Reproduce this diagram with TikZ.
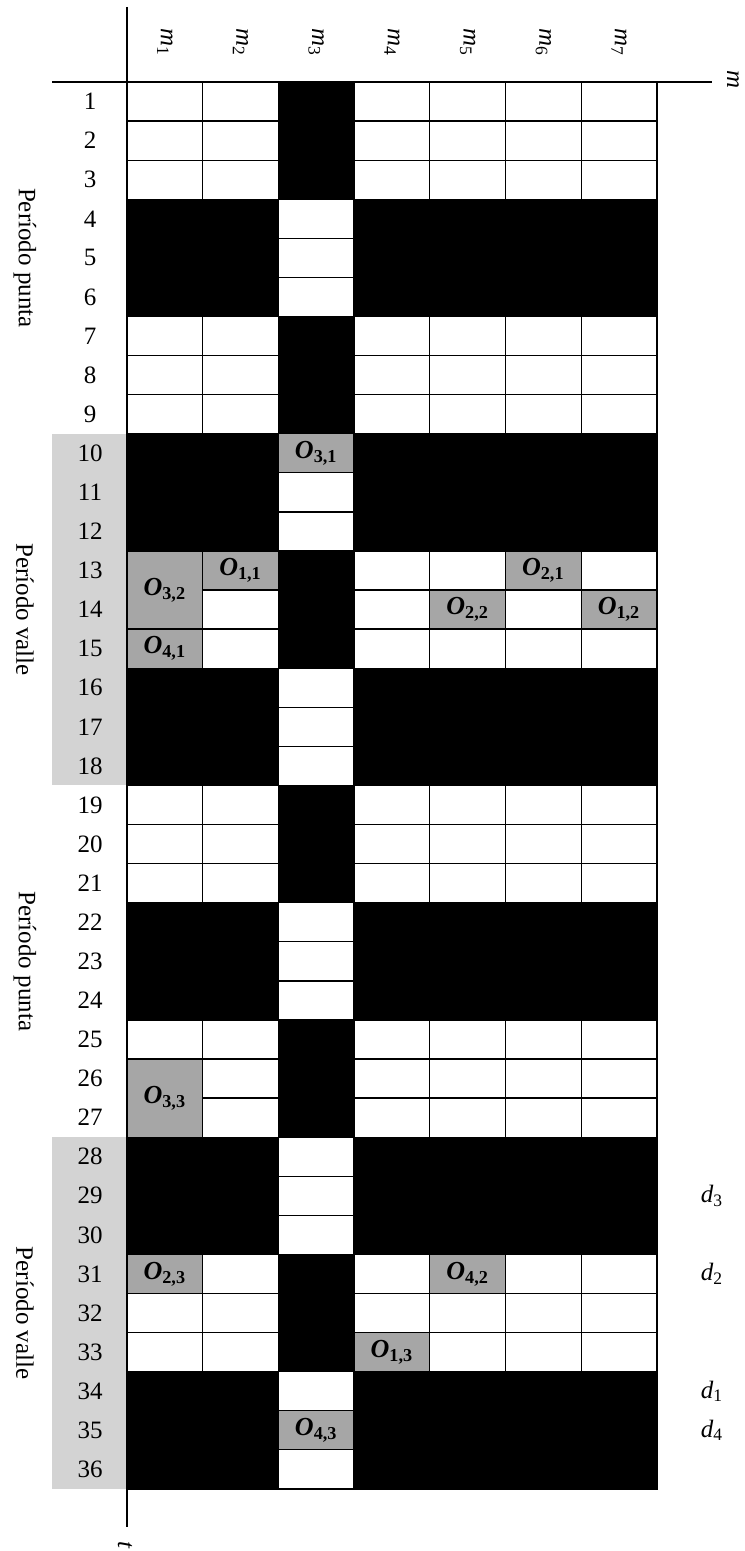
\documentclass[tikz,border=0pt]{standalone}
\usepackage{fontspec}
\setmainfont{Liberation Serif}
\usetikzlibrary{positioning}
\definecolor{Valle}{HTML}{D3D3D3}
\definecolor{OpGray}{HTML}{A6A6A6}
% cell centres, in pixels of the sheet
\newcommand{\cx}[1]{127+(#1-0.5)*75.7}
\newcommand{\ry}[1]{82+(#1-0.5)*39.08}
\newcommand{\opl}[1]{\textbf{\textit{O}}\textsubscript{\textbf{#1}}}

\begin{document}
\begin{tikzpicture}[
  x=0.5pt,y=-0.5pt,
  cell/.style={draw=black,line width=0.65pt,fill=white,minimum width=37.85pt,minimum height=19.54pt,inner sep=0pt,outer sep=0pt},
  busy/.style={cell,fill=black},
  op/.style={cell,fill=OpGray,font=\fontsize{13}{15}\selectfont},
  lbl/.style={font=\fontsize{12.5}{15}\selectfont,inner sep=0pt},
  axis/.style={draw=black,line width=0.65pt}
]
  \useasboundingbox (0,0) rectangle (744,1551);

  % valley bands
  \fill[Valle] (52,433.72) rectangle (127,785.44);
  \fill[Valle] (52,1137.16) rectangle (127,1488.88);

  % m3 busy, other machines free
  \foreach \r in {1,2,3,7,8,9,13,14,15,19,20,21,25,26,27,31,32,33} {
    \foreach \c in {1,2,4,5,6,7}
      \node[cell] (c-\r-\c) at ({\cx{\c}},{\ry{\r}}) {};
    \node[busy] (c-\r-3) at ({\cx{3}},{\ry{\r}}) {};
  }
  % m3 free, other machines busy
  \foreach \r in {4,5,6,10,11,12,16,17,18,22,23,24,28,29,30,34,35,36} {
    \foreach \c in {1,2,4,5,6,7}
      \node[busy] (c-\r-\c) at ({\cx{\c}},{\ry{\r}}) {};
    \node[cell] (c-\r-3) at ({\cx{3}},{\ry{\r}}) {};
  }

  % operations
  \node[op] (o31) at ({\cx{3}},{\ry{10}}) {\opl{3,1}};
  \node[op,minimum height=39.08pt] (o32) at ({\cx{1}},{82+13*39.08}) {\opl{3,2}};
  \node[op] (o11) at ({\cx{2}},{\ry{13}}) {\opl{1,1}};
  \node[op] (o21) at ({\cx{6}},{\ry{13}}) {\opl{2,1}};
  \node[op] (o22) at ({\cx{5}},{\ry{14}}) {\opl{2,2}};
  \node[op] (o12) at ({\cx{7}},{\ry{14}}) {\opl{1,2}};
  \node[op] (o41) at ({\cx{1}},{\ry{15}}) {\opl{4,1}};
  \node[op,minimum height=39.08pt] (o33) at ({\cx{1}},{82+26*39.08}) {\opl{3,3}};
  \node[op] (o23) at ({\cx{1}},{\ry{31}}) {\opl{2,3}};
  \node[op] (o42) at ({\cx{5}},{\ry{31}}) {\opl{4,2}};
  \node[op] (o13) at ({\cx{4}},{\ry{33}}) {\opl{1,3}};
  \node[op] (o43) at ({\cx{3}},{\ry{35}}) {\opl{4,3}};

  % time slots and machines
  \foreach \r in {1,...,36}
    \node[lbl] (t\r) at (90,{\ry{\r}}) {\r};
  \foreach \c in {1,...,7}
    \node[lbl,rotate=-90] (m\c) at ({\cx{\c}},42) {\textit{m}\textsubscript{\c}};

  % periods
  \node[lbl,rotate=-90] (punta1) at (25,{82+4.5*39.08}) {Período punta};
  \node[lbl,rotate=-90] (valle1) at (25,{82+13.5*39.08}) {Período valle};
  \node[lbl,rotate=-90] (punta2) at (25,{82+22.5*39.08}) {Período punta};
  \node[lbl,rotate=-90] (valle2) at (25,{82+31.5*39.08}) {Período valle};

  % due dates
  \node[lbl] (d3) at (712,{\ry{29}}) {\textit{d}\textsubscript{3}};
  \node[lbl] (d2) at (712,{\ry{31}}) {\textit{d}\textsubscript{2}};
  \node[lbl] (d1) at (712,{\ry{34}}) {\textit{d}\textsubscript{1}};
  \node[lbl] (d4) at (712,{\ry{35}}) {\textit{d}\textsubscript{4}};

  % axes
  \coordinate (ttop) at (127,7);
  \coordinate (tend) at (127,1527);
  \coordinate (mstart) at (52,82);
  \coordinate (mend) at (712,82);
  \draw[axis] (ttop) -- (tend);
  \draw[axis] (mstart) -- (mend);
  \node[lbl,rotate=-90] (maxis) at (733,80) {\textit{m}};
  \node[lbl,rotate=-90] (taxis) at (125,1545) {\textit{t}};
\end{tikzpicture}
\end{document}
